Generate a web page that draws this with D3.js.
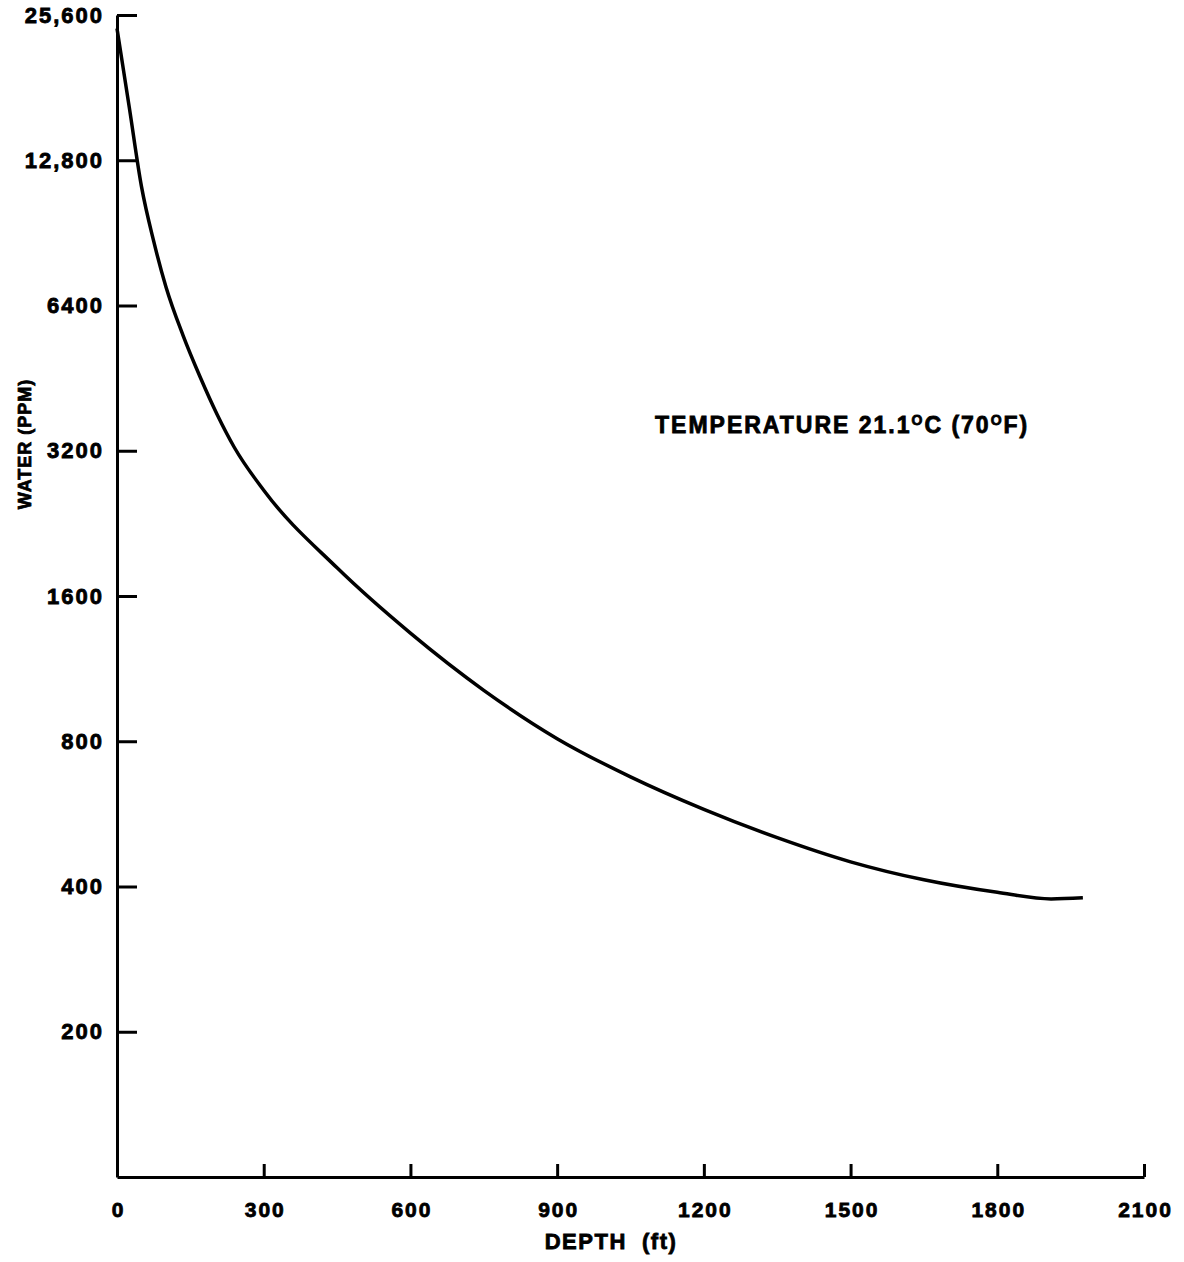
<!DOCTYPE html>
<html>
<head>
<meta charset="utf-8">
<script src="https://cdn.jsdelivr.net/npm/d3@7"></script>
<style>
  body { margin: 0; background: #fff; }
  svg text { font-family: "Liberation Sans", Arial, sans-serif; font-weight: bold; fill: #000; stroke: #000; stroke-width: 0.8; }
  .axis path, .axis line { stroke: #000; stroke-width: 3; }
  .line-path { fill: none; stroke: #000; stroke-width: 3.5; }
</style>
</head>
<body>
<svg id="chart" width="1184" height="1262"></svg>
<script>
// depth (ft) and water content (ppm)
const depth = [0, 25, 50, 75, 100, 135, 170, 205, 240, 300, 450, 600, 750, 900, 1050, 1200, 1350, 1500, 1650, 1800, 1910, 1975];
const water = [24000, 16500, 11300, 8700, 7000, 5550, 4550, 3800, 3250, 2650, 1830, 1340, 1020, 810, 675, 578, 505, 450, 413, 389, 377, 379];

const xTicks = [0, 300, 600, 900, 1200, 1500, 1800, 2100];
const yTicks = [25600, 12800, 6400, 3200, 1600, 800, 400, 200];
const yTickLabels = ["25,600", "12,800", "6400", "3200", "1600", "800", "400", "200"];

const data = depth.map((d, i) => ({ depth: d, water: water[i] }));

const svg = d3.select("#chart");

const x = d3.scaleLinear().domain([0, 2100]).range([117, 1144]);
const y = d3.scaleLog().base(2).domain([100, 25600]).range([1177, 15]);

// X axis, ticks pointing up into the plot
const xAxis = d3.axisBottom(x)
  .tickValues(xTicks)
  .tickFormat(d3.format("d"))
  .tickSizeInner(-13)
  .tickSizeOuter(0)
  .tickPadding(24);

const xAxisG = svg.append("g")
  .attr("class", "axis")
  .attr("transform", "translate(0,1177)")
  .call(xAxis);
xAxisG.selectAll("text")
  .attr("font-size", 21)
  .attr("letter-spacing", 2)
  .attr("dx", 1)
  .attr("dy", "0.76em");

// Y axis, ticks pointing right into the plot
const yAxis = d3.axisLeft(y)
  .tickValues(yTicks)
  .tickFormat((d, i) => yTickLabels[i])
  .tickSizeInner(-20)
  .tickSizeOuter(0)
  .tickPadding(13);

const yAxisG = svg.append("g")
  .attr("class", "axis")
  .attr("transform", "translate(117,0)")
  .call(yAxis);
yAxisG.selectAll("text")
  .attr("font-size", 22)
  .attr("letter-spacing", 2);

// axis labels
svg.append("text")
  .attr("x", 611)
  .attr("y", 1249)
  .attr("text-anchor", "middle")
  .attr("font-size", 22)
  .attr("letter-spacing", 1.5)
  .attr("xml:space", "preserve")
  .text("DEPTH  (ft)");

svg.append("text")
  .attr("transform", "rotate(-90)")
  .attr("x", -444)
  .attr("y", 31)
  .attr("text-anchor", "middle")
  .attr("font-size", 18)
  .attr("letter-spacing", 1)
  .text("WATER (PPM)");

// annotation
const note = svg.append("text")
  .attr("x", 655)
  .attr("y", 433)
  .attr("font-size", 23)
  .attr("letter-spacing", 2);
note.append("tspan").text("TEMPERATURE 21.1");
note.append("tspan").attr("font-size", 14).attr("dy", -8).text("O");
note.append("tspan").attr("dy", 8).text("C (70");
note.append("tspan").attr("font-size", 14).attr("dy", -8).text("O");
note.append("tspan").attr("dy", 8).text("F)");

// curve
const line = d3.line()
  .x(d => x(d.depth))
  .y(d => y(d.water))
  .curve(d3.curveMonotoneX);

svg.append("path")
  .attr("class", "line-path")
  .attr("d", line(data));
</script>
</body>
</html>
